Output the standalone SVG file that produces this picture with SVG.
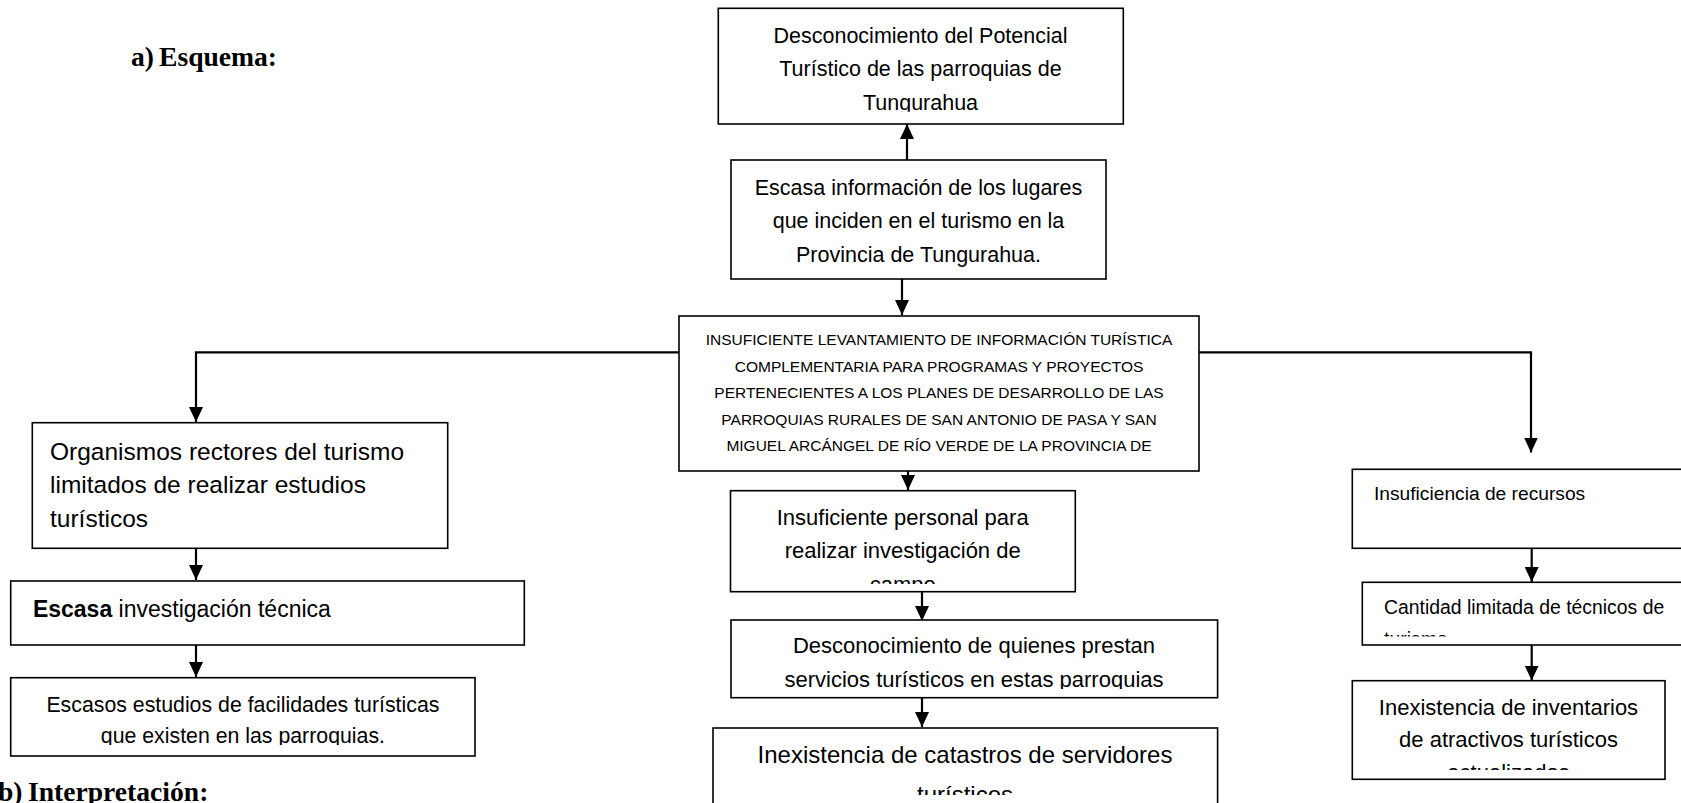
<svg xmlns="http://www.w3.org/2000/svg" width="1681" height="803" viewBox="0 0 1681 803">
<defs>
<style>
.box{fill:#fff;stroke:#000;stroke-width:1.6}
.t{font-family:"Liberation Sans",Arial,sans-serif;fill:#000}
.m{text-anchor:middle}
.h{font-family:"Liberation Serif","Times New Roman",serif;font-weight:bold;fill:#000;font-size:27.6px}
.c{fill:none;stroke:#000;stroke-width:2.2}
</style>
<marker id="ah" markerUnits="userSpaceOnUse" markerWidth="15" markerHeight="14" refX="15" refY="7" orient="auto">
<path d="M0,0 L15,7 L0,14 z" fill="#000"/>
</marker>
<clipPath id="cp1" clipPathUnits="userSpaceOnUse"><rect x="718" y="8" width="405" height="103.7"/></clipPath>
<clipPath id="cp4" clipPathUnits="userSpaceOnUse"><rect x="730" y="490" width="346" height="94"/></clipPath>
<clipPath id="cp5" clipPathUnits="userSpaceOnUse"><rect x="731" y="620" width="487" height="69"/></clipPath>
<clipPath id="cp6" clipPathUnits="userSpaceOnUse"><rect x="713" y="728" width="505" height="67"/></clipPath>
<clipPath id="cpE" clipPathUnits="userSpaceOnUse"><rect x="10" y="677" width="465" height="68"/></clipPath>
<clipPath id="cpC" clipPathUnits="userSpaceOnUse"><rect x="1362" y="582" width="330" height="54.5"/></clipPath>
<clipPath id="cpI" clipPathUnits="userSpaceOnUse"><rect x="1352" y="680" width="313" height="90"/></clipPath>
</defs>
<rect x="0" y="0" width="1681" height="803" fill="#fff"/>

<g id="headings">
<text class="h" x="131" y="66">a)</text>
<text class="h" x="159" y="66">Esquema:</text>
<text class="h" x="-2" y="801">b)</text>
<text class="h" x="28" y="801">Interpretación:</text>
</g>

<g id="connectors">
<path class="c" d="M907,160 V124" marker-end="url(#ah)"/>
<path class="c" d="M902,279 V315" marker-end="url(#ah)"/>
<path class="c" d="M679,352.3 H196 V422" marker-end="url(#ah)"/>
<path class="c" d="M1199,352.3 H1531 V452.5" marker-end="url(#ah)"/>
<path class="c" d="M908,471 V490" marker-end="url(#ah)"/>
<path class="c" d="M922,591.7 V621" marker-end="url(#ah)"/>
<path class="c" d="M922,697.7 V727" marker-end="url(#ah)"/>
<path class="c" d="M196,548.3 V580" marker-end="url(#ah)"/>
<path class="c" d="M196,645 V677" marker-end="url(#ah)"/>
<path class="c" d="M1531.7,547 V582" marker-end="url(#ah)"/>
<path class="c" d="M1531.7,645 V680.5" marker-end="url(#ah)"/>
</g>

<g id="node-desconocimiento">
<rect class="box" x="718.3" y="8.3" width="405" height="115.7"/>
<g clip-path="url(#cp1)">
<text class="t m" font-size="21.5" x="920.5" y="42.7">Desconocimiento del Potencial</text>
<text class="t m" font-size="21.5" x="920.5" y="76">Turístico de las parroquias de</text>
<text class="t m" font-size="21.5" x="920.5" y="109.5">Tungurahua</text>
</g>
</g>

<g id="node-escasa-informacion">
<rect class="box" x="731" y="160" width="375" height="119"/>
<text class="t m" font-size="21.5" x="918.5" y="194.5">Escasa información de los lugares</text>
<text class="t m" font-size="21.5" x="918.5" y="228">que inciden en el turismo en la</text>
<text class="t m" font-size="21.5" x="918.5" y="261.5">Provincia de Tungurahua.</text>
</g>

<g id="node-problema-central">
<rect class="box" x="679" y="316" width="520" height="155"/>
<text class="t m" font-size="15.5" x="939" y="345">INSUFICIENTE LEVANTAMIENTO DE INFORMACIÓN TURÍSTICA</text>
<text class="t m" font-size="15.5" x="939" y="371.5">COMPLEMENTARIA PARA PROGRAMAS Y PROYECTOS</text>
<text class="t m" font-size="15.5" x="939" y="398">PERTENECIENTES A LOS PLANES DE DESARROLLO DE LAS</text>
<text class="t m" font-size="15.5" x="939" y="424.5">PARROQUIAS RURALES DE SAN ANTONIO DE PASA Y SAN</text>
<text class="t m" font-size="15.5" x="939" y="451">MIGUEL ARCÁNGEL DE RÍO VERDE DE LA PROVINCIA DE</text>
</g>

<g id="node-organismos">
<rect class="box" x="32.3" y="422.7" width="415.4" height="125.6"/>
<text class="t" font-size="24.5" x="50" y="460">Organismos rectores del turismo</text>
<text class="t" font-size="24.5" x="50" y="493.3">limitados de realizar estudios</text>
<text class="t" font-size="24.5" x="50" y="526.7">turísticos</text>
</g>

<g id="node-escasa-investigacion">
<rect class="box" x="10.7" y="581" width="513.6" height="64"/>
<text class="t" font-size="23" x="32.9" y="617.3"><tspan font-weight="bold">Escasa</tspan> investigación técnica</text>
</g>

<g id="node-escasos-estudios">
<rect class="box" x="10.7" y="677.7" width="464.3" height="78.3"/>
<g clip-path="url(#cpE)">
<text class="t m" font-size="21.3" x="242.9" y="711.7">Escasos estudios de facilidades turísticas</text>
<text class="t m" font-size="21.3" x="242.9" y="743">que existen en las parroquias.</text>
</g>
</g>

<g id="node-insuficiente-personal">
<rect class="box" x="730.5" y="490.7" width="344.8" height="101"/>
<g clip-path="url(#cp4)">
<text class="t m" font-size="22" x="902.7" y="525">Insuficiente personal para</text>
<text class="t m" font-size="22" x="902.7" y="558.3">realizar investigación de</text>
<text class="t m" font-size="22" x="902.7" y="591.6">campo</text>
</g>
</g>

<g id="node-desconocimiento-prestadores">
<rect class="box" x="731" y="620" width="486.6" height="77.7"/>
<g clip-path="url(#cp5)">
<text class="t m" font-size="22" x="974" y="653.3">Desconocimiento de quienes prestan</text>
<text class="t m" font-size="22" x="974" y="687.3">servicios turísticos en estas parroquias</text>
</g>
</g>

<g id="node-inexistencia-catastros">
<rect class="box" x="713" y="728" width="504.6" height="100"/>
<g clip-path="url(#cp6)">
<text class="t m" font-size="24" x="965" y="763.3">Inexistencia de catastros de servidores</text>
<text class="t m" font-size="24" x="965" y="802.5">turísticos</text>
</g>
</g>

<g id="node-insuficiencia-recursos">
<rect class="box" x="1352.3" y="469.3" width="340" height="79"/>
<text class="t" font-size="19.2" x="1374" y="500">Insuficiencia de recursos</text>
</g>

<g id="node-cantidad-tecnicos">
<rect class="box" x="1362.3" y="582.3" width="330" height="62.7"/>
<g clip-path="url(#cpC)">
<text class="t" font-size="19.4" x="1384" y="614.3">Cantidad limitada de técnicos de</text>
<text class="t" font-size="19.4" x="1384" y="645.5">turismo</text>
</g>
</g>

<g id="node-inexistencia-inventarios">
<rect class="box" x="1352.3" y="680.7" width="312.7" height="98.6"/>
<g clip-path="url(#cpI)">
<text class="t m" font-size="22" x="1508.5" y="715">Inexistencia de inventarios</text>
<text class="t m" font-size="22" x="1508.5" y="747.3">de atractivos turísticos</text>
<text class="t m" font-size="22" x="1508.5" y="780">actualizados</text>
</g>
</g>
</svg>
